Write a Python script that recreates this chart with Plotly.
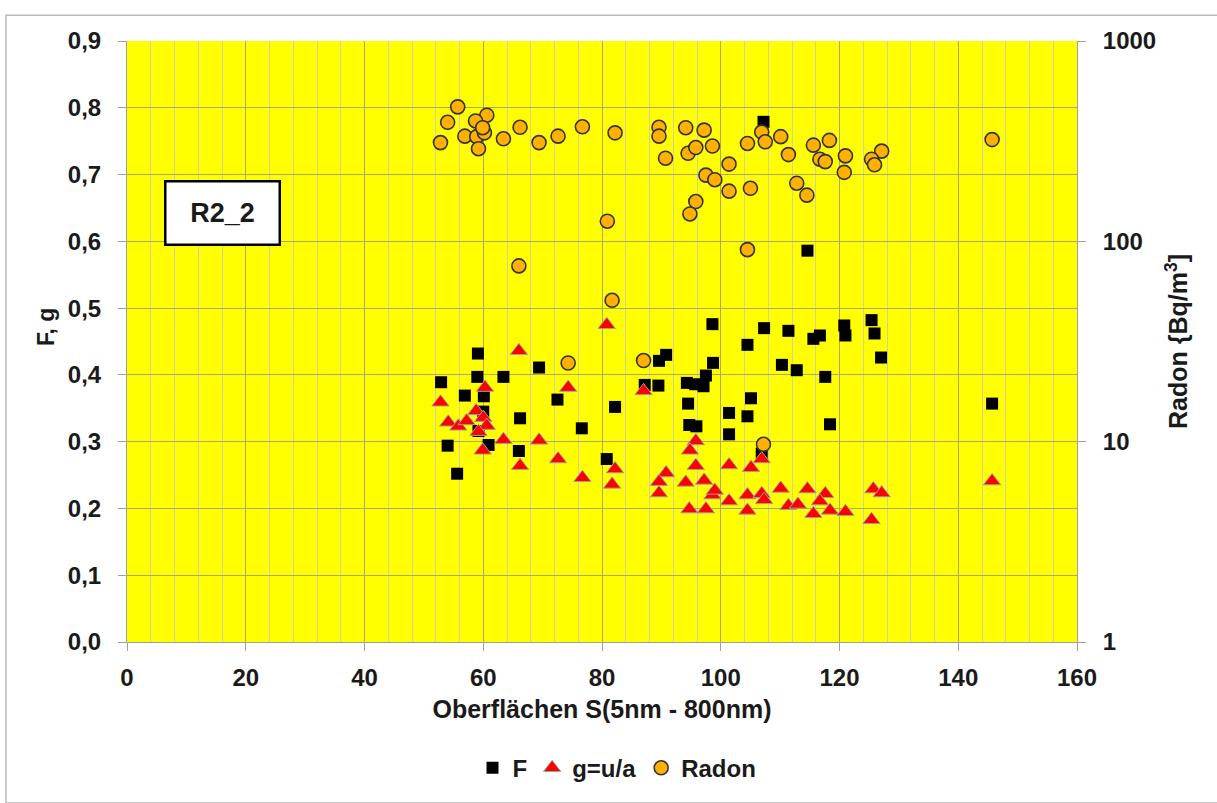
import plotly.graph_objects as go

# Oberfläche S (5nm - 800nm) and parameter F
f_x = [98.6, 59.1, 69.4, 90.8, 89.6, 98.7, 52.9, 59.0, 63.4, 56.9, 60.1, 72.5, 87.2, 89.5,
       94.3, 95.7, 97.1, 97.5, 94.5, 82.2, 66.2, 60.0, 94.7, 95.9, 76.6, 54.0, 60.9, 66.0,
       80.8, 55.6, 59.2, 107.3, 111.4, 104.5, 115.6, 116.7, 120.8, 121.0, 125.4, 125.9,
       127.0, 110.3, 112.8, 117.6, 105.1, 101.4, 104.5, 101.4, 118.4, 145.7, 106.9, 107.2, 114.6]
f_val = [0.476, 0.432, 0.411, 0.430, 0.421, 0.418, 0.389, 0.397, 0.397, 0.369, 0.368, 0.363, 0.385, 0.384,
         0.388, 0.386, 0.383, 0.399, 0.357, 0.352, 0.335, 0.345, 0.325, 0.323, 0.320, 0.294, 0.295, 0.286,
         0.274, 0.252, 0.316, 0.470, 0.466, 0.445, 0.454, 0.459, 0.474, 0.459, 0.482, 0.462,
         0.426, 0.415, 0.407, 0.397, 0.365, 0.343, 0.338, 0.311, 0.326, 0.357, 0.282, 0.779, 0.586]

# Parameter g = u/a
g_x = [80.8, 66.0, 74.3, 87.0, 60.3, 52.8, 58.8, 54.1, 55.8, 57.2, 60.0, 60.6, 59.2, 59.9,
       63.4, 69.4, 66.2, 72.6, 76.7, 82.2, 81.7, 90.8, 89.6, 89.6, 95.8, 94.8, 95.8, 94.1,
       97.2, 98.6, 99.0, 94.7, 97.5, 106.9, 101.4, 105.1, 110.1, 114.6, 117.6, 104.5, 106.9,
       107.3, 101.4, 111.4, 113.0, 116.7, 118.4, 121.0, 115.6, 104.5, 125.7, 127.1, 125.4, 145.7]
g_val = [0.475, 0.436, 0.381, 0.376, 0.381, 0.359, 0.346, 0.329, 0.323, 0.331, 0.336, 0.324, 0.315, 0.287,
         0.303, 0.302, 0.264, 0.274, 0.246, 0.259, 0.236, 0.253, 0.240, 0.223, 0.301, 0.287, 0.264, 0.239,
         0.242, 0.220, 0.227, 0.199, 0.199, 0.274, 0.265, 0.261, 0.230, 0.229, 0.222, 0.220, 0.222,
         0.213, 0.211, 0.204, 0.206, 0.211, 0.197, 0.195, 0.192, 0.197, 0.229, 0.223, 0.183, 0.241]

# Radon concentration in Bq/m³
radon_x = [55.7, 54.0, 60.6, 58.7, 56.9, 58.9, 60.2, 59.9, 52.8, 59.2, 63.4, 66.2, 69.4, 72.6,
           76.7, 82.2, 66.0, 80.9, 81.7, 89.6, 89.6, 90.7, 94.1, 97.2, 94.5, 95.8, 98.6, 97.5,
           99.0, 95.8, 94.8, 101.4, 101.4, 105.0, 104.5, 106.9, 107.5, 110.1, 111.4, 112.8,
           114.5, 115.6, 118.3, 116.7, 117.6, 121.0, 120.8, 127.1, 125.4, 125.9, 145.7, 104.5,
           74.3, 87.0, 107.2]
radon_val = [469, 393, 426, 399, 335, 333, 348, 369, 311, 290, 325, 371, 311, 335,
             373, 348, 75.4, 126, 50.8, 371, 335, 260, 369, 359, 275, 294, 299, 214,
             203, 158, 137, 243, 178, 184, 308, 351, 314, 333, 271, 195,
             170, 302, 319, 257, 250, 267, 221, 282, 257, 241, 322, 90.9,
             24.7, 25.4, 9.7]

x_ticks = [0, 20, 40, 60, 80, 100, 120, 140, 160]
y_ticks = [0.0, 0.1, 0.2, 0.3, 0.4, 0.5, 0.6, 0.7, 0.8, 0.9]
y2_ticks = [1, 10, 100, 1000]

FONT = "Liberation Sans, Arial, sans-serif"
INK = "#1a1a1a"
tick_font = dict(family=FONT, size=24, color=INK, weight="bold")
title_font = dict(family=FONT, size=25, color=INK, weight="bold")

fig = go.Figure()

fig.add_trace(go.Scatter(
    x=f_x, y=f_val, mode="markers", name="F",
    marker=dict(symbol="square", size=12, color="#000000",
                line=dict(color="#000000", width=0)),
))
fig.add_trace(go.Scatter(
    x=g_x, y=g_val, mode="markers", name="g=u/a",
    marker=dict(symbol="triangle-up", size=15, color="#FF0000",
                line=dict(color="#A0A0A0", width=1)),
))
fig.add_trace(go.Scatter(
    x=radon_x, y=radon_val, mode="markers", name="Radon", yaxis="y2",
    marker=dict(symbol="circle", size=14, color="#FFB000",
                line=dict(color="#333333", width=1.6)),
))

plot_l, plot_r, plot_t, plot_b = 127, 1077, 41, 646
W, H = 1217, 803
pw, ph = plot_r - plot_l, plot_b - plot_t


def px_x(px):
    return (px - plot_l) / pw


def px_y(py):
    return (plot_b - py) / ph


fig.update_layout(
    width=W, height=H,
    margin=dict(l=plot_l, r=W - plot_r, t=plot_t, b=H - plot_b, pad=0),
    paper_bgcolor="#FFFFFF",
    plot_bgcolor="#FFFF00",
    separators=",.",
    showlegend=True,
    legend=dict(
        orientation="h", x=px_x(617), xanchor="center", y=px_y(773), yanchor="middle",
        font=dict(family=FONT, size=24, color=INK, weight="bold"),
        itemwidth=30, itemsizing="trace", tracegroupgap=0,
        bgcolor="rgba(0,0,0,0)",
    ),
    xaxis=dict(
        range=[0, 160], tickvals=x_ticks, ticks="outside", ticklen=8,
        tickcolor="#A0A0A0", tickfont=tick_font, ticklabelstandoff=6,
        showgrid=True, gridcolor="#A8A870", gridwidth=1,
        minor=dict(dtick=4, showgrid=True, gridcolor="#D0D0A0", gridwidth=1),
        showline=True, linecolor="#A0A0A0", linewidth=1,
        zeroline=False,
        title=dict(text="Oberflächen S(5nm - 800nm)", font=title_font, standoff=10),
    ),
    yaxis=dict(
        range=[0, 0.9], tickvals=y_ticks, tickformat=".1f", ticks="outside", ticklen=8,
        tickcolor="#A0A0A0", tickfont=tick_font, ticklabelstandoff=12,
        showgrid=True, gridcolor="#A8A870", gridwidth=1,
        showline=True, linecolor="#A0A0A0", linewidth=1,
        zeroline=False,
    ),
    yaxis2=dict(
        type="log", range=[0, 3], overlaying="y", side="right",
        tickvals=y2_ticks, ticktext=[str(v) for v in y2_ticks],
        ticks="outside", ticklen=8, tickcolor="#A0A0A0", tickfont=tick_font,
        ticklabelstandoff=12,
        showgrid=False, showline=True, linecolor="#A0A0A0", linewidth=1,
        zeroline=False,
        title=dict(text="Radon {Bq/m<sup>3</sup>]", font=title_font, standoff=14),
    ),
)

# left axis title
fig.add_annotation(
    xref="paper", yref="paper", x=px_x(46), y=px_y(329),
    xanchor="center", yanchor="middle", textangle=-90,
    text="F, g", showarrow=False,
    font=dict(family=FONT, size=23, color=INK, weight="bold"),
)

# outer chart frame
fig.add_shape(
    type="rect", xref="paper", yref="paper", layer="below",
    x0=px_x(6), x1=px_x(W + 5),
    y0=px_y(H + 5), y1=px_y(15),
    line=dict(color="#B8B8B8", width=1.5), fillcolor="rgba(0,0,0,0)",
)

# sample label box
fig.add_annotation(
    xref="paper", yref="paper",
    x=px_x(222.5), y=px_y(214.5), xanchor="center", yanchor="middle",
    text="<b>R2_2</b>", showarrow=False,
    font=dict(family=FONT, size=27, color=INK),
    bgcolor="#FFFFFF", bordercolor="#000000", borderwidth=2.5,
    width=110, height=59, align="center", valign="middle",
)

fig.write_html("out.html")
